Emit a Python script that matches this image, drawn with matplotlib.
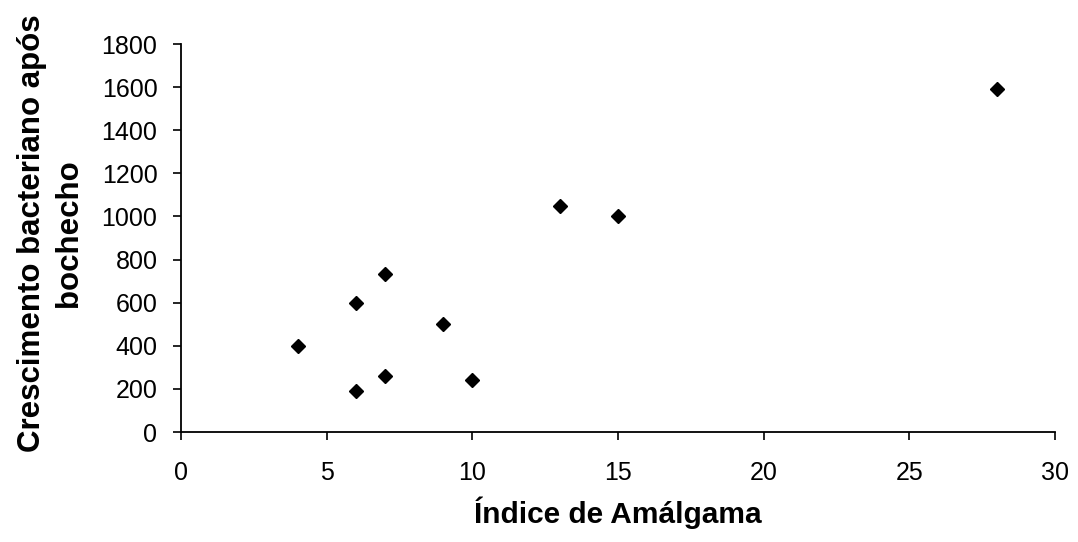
import matplotlib
matplotlib.use("Agg")
import matplotlib.pyplot as plt

# Amalgam index vs. bacterial growth after mouthwash
amalgam_index = [4, 6, 6, 7, 7, 9, 10, 13, 15, 28]
bacterial_growth = [400, 600, 190, 735, 260, 500, 240, 1050, 1000, 1590]

x_ticks = [0, 5, 10, 15, 20, 25, 30]
y_ticks = [0, 200, 400, 600, 800, 1000, 1200, 1400, 1600, 1800]

plt.rcParams['font.family'] = ['Liberation Sans', 'DejaVu Sans']

fig = plt.figure(figsize=(10.78, 5.42), dpi=100)
ax = fig.add_axes([181 / 1078, 1 - 432 / 542, (1055 - 181) / 1078, (432 - 44) / 542])

ax.plot(amalgam_index, bacterial_growth, linestyle='none', marker='D',
        markersize=7.5, color='black')

ax.set_xlim(0, 30)
ax.set_ylim(0, 1800)
ax.set_xticks(x_ticks)
ax.set_yticks(y_ticks)
ax.tick_params(axis='both', direction='out', length=6, width=1.2,
               labelsize=18, color='black')
ax.tick_params(axis='x', pad=15)
ax.tick_params(axis='y', pad=11)

for side in ('top', 'right'):
    ax.spines[side].set_visible(False)
for side in ('left', 'bottom'):
    ax.spines[side].set_linewidth(1.3)

ax.set_xlabel('Índice de Amálgama', fontsize=21.5, fontweight='bold', labelpad=8)
ax.set_ylabel('Crescimento bacteriano após\nbochecho', fontsize=22.5,
              fontweight='bold', linespacing=1.3)
ax.yaxis.set_label_coords(-0.111, 0.513)

fig.savefig('out.png', dpi=100)
